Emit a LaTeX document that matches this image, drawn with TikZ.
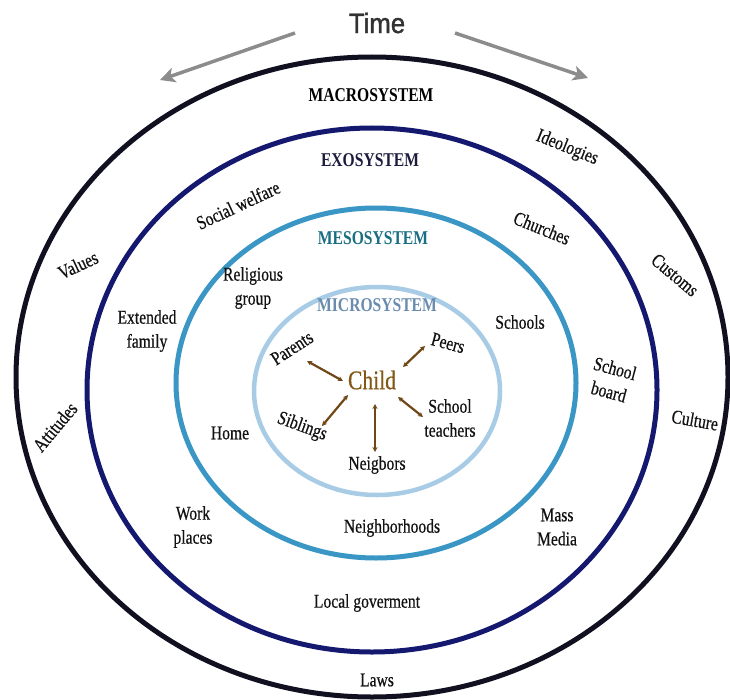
\documentclass[tikz,border=0pt]{standalone}
\usepackage{fontspec}
\setmainfont{Liberation Serif}[FakeStretch=0.8, UprightFeatures={FakeBold=0.5}, ItalicFeatures={FakeBold=0.5}]
\newfontfamily\timefont{Liberation Sans}[FakeStretch=0.92, FakeBold=1.2]
\usetikzlibrary{arrows.meta}

\definecolor{macroring}{RGB}{16,16,32}
\definecolor{exoring}{RGB}{20,24,110}
\definecolor{mesoring}{RGB}{58,150,196}
\definecolor{microring}{RGB}{168,204,230}
\definecolor{txt}{RGB}{18,18,18}
\definecolor{exotxt}{RGB}{28,28,62}
\definecolor{mesotxt}{RGB}{25,110,130}
\definecolor{microtxt}{RGB}{105,140,175}
\definecolor{childtxt}{RGB}{130,88,20}
\definecolor{arrowbrown}{RGB}{112,72,22}
\definecolor{timegray}{RGB}{140,140,140}
\definecolor{timetxt}{RGB}{50,50,50}

\tikzset{
  lbl/.style={font=\fontsize{19.5bp}{24bp}\selectfont, align=center, inner sep=1bp, text=txt},
  sys/.style={font=\fontsize{19.5bp}{24bp}\selectfont\bfseries, inner sep=1bp},
  ring/.style={line width=5bp},
  biarrow/.style={draw=arrowbrown, line width=2.2bp,
    {Stealth[length=5bp,width=5bp]}-{Stealth[length=5bp,width=5bp]}},
  timearrow/.style={draw=timegray, line width=3.5bp,
    -{Stealth[length=15bp,width=15bp,inset=4bp]}},
}

\begin{document}
\begin{tikzpicture}[x=1bp,y=-1bp]
  \useasboundingbox[fill=white] (0,0) rectangle (730,700);

  % nested system rings
  \draw[ring, draw=macroring] (372,377) ellipse [x radius=356, y radius=320];
  \draw[ring, draw=exoring]   (372,390) ellipse [x radius=285, y radius=262];
  \draw[ring, draw=mesoring]  (376,383) ellipse [x radius=200, y radius=175];
  \draw[line width=4.5bp, draw=microring] (377,391) ellipse [x radius=123, y radius=104];

  % time
  \node[font=\timefont\fontsize{28bp}{30bp}\selectfont, text=timetxt, inner sep=1bp] (time) at (377,23) {Time};
  \coordinate (past) at (160,80);
  \coordinate (future) at (588,78);
  \draw[timearrow] ([shift={(-82,10)}]time.center) -- (past);
  \draw[timearrow] ([shift={(78,10)}]time.center) -- (future);

  % system titles
  \node[sys, text=black]    (macro) at (371,95)  {MACROSYSTEM};
  \node[sys, text=exotxt]   (exo)   at (370,160) {EXOSYSTEM};
  \node[sys, text=mesotxt]  (meso)  at (373,238) {MESOSYSTEM};
  \node[sys, text=microtxt] (micro) at (377,305) {MICROSYSTEM};

  % microsystem
  \node[font=\fontsize{27bp}{30bp}\selectfont, text=childtxt, inner sep=1bp] (child) at (372,380) {Child};
  \node[lbl, rotate=33]  (parents)  at (292,348) {Parents};
  \node[lbl, rotate=-15] (peers)    at (448,343) {Peers};
  \node[lbl, rotate=-20] (siblings) at (302,427) {Siblings};
  \node[lbl]             (teachers) at (450,418) {School\\teachers};
  \node[lbl]             (neigbors) at (377,465) {Neigbors};

  \draw[biarrow] ([shift={(-29,1)}]child.center)  -- ([shift={(15,13)}]parents.center);
  \draw[biarrow] ([shift={(31,-13)}]child.center) -- ([shift={(-23,3)}]peers.center);
  \draw[biarrow] ([shift={(-24,15)}]child.center) -- ([shift={(20,-1)}]siblings.center);
  \draw[biarrow] ([shift={(26,17)}]child.center)  -- ([shift={(-27,-1)}]teachers.center);
  \draw[biarrow] ([shift={(3,24)}]child.center)   -- ([shift={(-2,-13)}]neigbors.center);

  % mesosystem
  \node[lbl] (religious) at (253,288) {Religious\\group};
  \node[lbl] (schools)   at (520,322) {Schools};
  \node[lbl] (home)      at (230,433) {Home};
  \node[lbl] (neighb)    at (392,528) {Neighborhoods};

  % exosystem
  \node[lbl, rotate=25]  (welfare)  at (238,205) {Social welfare};
  \node[lbl, rotate=-22] (churches) at (542,228) {Churches};
  \node[lbl]             (extended) at (147,331) {Extended\\family};
  \node[lbl, rotate=-15] (board)    at (612,380) {School\\board};
  \node[lbl]             (work)     at (193,527) {Work\\places};
  \node[lbl]             (media)    at (557,527) {Mass\\Media};
  \node[lbl]             (localgov) at (367,603) {Local goverment};

  % macrosystem
  \node[lbl, rotate=25]  (values)     at (78,265)  {Values};
  \node[lbl, rotate=50]  (attitudes)  at (55,427)  {Attitudes};
  \node[lbl, rotate=-22] (ideologies) at (567,148) {Ideologies};
  \node[lbl, rotate=-40] (customs)    at (675,275) {Customs};
  \node[lbl, rotate=-10] (culture)    at (695,420) {Culture};
  \node[lbl]             (laws)       at (377,680) {Laws};
\end{tikzpicture}
\end{document}
